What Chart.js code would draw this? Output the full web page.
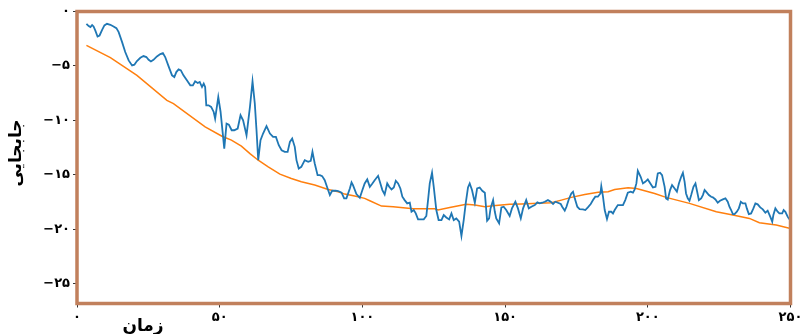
<!DOCTYPE html>
<html>
<head>
<meta charset="utf-8">
<script src="https://cdn.jsdelivr.net/npm/chart.js@4"></script>
<style>
  html, body { margin: 0; padding: 0; background: #fff; }
  #wrap { width: 800px; height: 334px; }
</style>
</head>
<body>
<div id="wrap"><canvas id="c" width="800" height="334"></canvas></div>
<script>
// Displacement vs. time – noisy measurement (blue) and smoothed trend (orange).
const X_TITLE = "زمان";
const Y_TITLE = "جابجایی";
const X_TICKS = [0, 50, 100, 150, 200, 250];
const Y_TICKS = [0, -5, -10, -15, -20, -25];

const blueT = [3.3, 4.1, 4.7, 5.3, 5.8, 6.4, 7.2, 7.9, 8.8, 9.6, 10.5, 11.7, 12.8, 13.8, 14.6, 15.8,
  16.9, 18.1, 19.3, 20.1, 21.0, 22.2, 23.3, 24.3, 25.1, 25.9, 26.8, 28.0, 29.2, 30.1, 30.9, 32.1,
  33.3, 34.1, 34.8, 35.6, 36.4, 37.3, 38.5, 39.7, 40.6, 41.4, 42.3, 43.0, 43.8, 44.4, 44.9, 45.3,
  46.1, 47.0, 47.9, 48.4, 49.5, 50.3, 51.0, 51.6, 52.4, 53.2, 54.2, 55.1, 56.3, 57.3, 58.2, 59.4,
  60.6, 61.5, 62.3, 62.9, 63.5, 64.3, 65.2, 66.4, 67.6, 68.7, 69.7, 70.7, 71.7, 72.8, 73.8, 74.6,
  75.4, 76.3, 76.9, 77.7, 78.6, 79.8, 81.0, 81.9, 82.5, 83.3, 84.3, 85.1, 85.9, 86.8, 87.8, 88.6,
  89.4, 90.6, 91.5, 92.7, 93.6, 94.4, 95.6, 96.2, 96.7, 97.9, 99.1, 100.0, 100.8, 101.7, 102.6,
  103.5, 104.3, 105.5, 106.3, 107.0, 107.8, 108.7, 109.4, 110.2, 111.0, 111.7, 112.5, 113.3, 114.0,
  114.8, 115.7, 116.6, 117.2, 118.0, 118.7, 119.5, 120.7, 121.5, 122.4, 123.0, 123.6, 124.4, 125.0,
  125.9, 126.7, 127.7, 128.5, 129.4, 130.4, 131.2, 132.0, 132.9, 133.9, 134.7, 135.5, 136.2, 137.0,
  137.6, 138.4, 139.4, 140.2, 141.1, 142.0, 142.9, 143.7, 144.4, 144.9, 145.8, 146.4, 146.9, 147.9,
  148.7, 149.5, 150.4, 151.6, 152.4, 153.6, 154.5, 155.5, 156.3, 157.4, 158.3, 159.2, 160.4, 161.3,
  162.1, 163.0, 163.9, 165.0, 166.0, 166.8, 167.6, 168.5, 169.5, 170.0, 170.9, 171.5, 172.3, 173.2,
  173.8, 174.4, 175.3, 176.1, 177.3, 178.1, 179.0, 180.0, 180.8, 181.6, 182.5, 183.4, 183.7, 184.3,
  184.9, 185.7, 186.4, 187.2, 187.8, 188.4, 189.5, 190.5, 191.3, 192.1, 193.0, 194.0, 194.8, 195.4,
  196.0, 196.5, 197.5, 198.3, 199.1, 200.0, 200.9, 201.8, 202.7, 203.5, 204.3, 205.0, 205.9, 206.4,
  207.0, 207.8, 208.5, 209.4, 210.2, 210.9, 211.7, 212.3, 212.9, 213.4, 214.0, 214.6, 215.2, 216.0,
  216.7, 217.3, 217.9, 218.7, 219.3, 219.9, 220.4, 221.4, 222.2, 222.8, 223.7, 224.5, 225.3, 226.3,
  227.2, 228.0, 228.6, 229.2, 229.8, 230.4, 231.2, 231.9, 232.6, 233.3, 234.2, 234.7, 235.4, 236.2,
  237.0, 237.7, 238.5, 239.4, 240.3, 241.2, 242.0, 242.9, 243.6, 244.0, 244.7, 245.5, 246.1, 247.1,
  247.6, 248.2, 249.0, 249.6];
const blueV = [-1.13, -1.34, -1.43, -1.25, -1.37, -1.74, -2.29, -2.20, -1.68, -1.28, -1.13, -1.22,
  -1.37, -1.53, -1.89, -2.81, -3.72, -4.49, -4.95, -4.88, -4.55, -4.25, -4.09, -4.18, -4.43, -4.58,
  -4.43, -4.12, -3.91, -3.82, -4.18, -5.04, -5.86, -6.01, -5.56, -5.31, -5.40, -5.86, -6.32, -6.78,
  -6.78, -6.41, -6.56, -6.47, -6.93, -6.62, -6.93, -8.61, -8.61, -8.76, -9.22, -9.83, -7.85, -9.20,
  -11.0, -12.58, -10.29, -10.38, -10.90, -10.90, -10.74, -9.52, -9.98, -11.36, -8.76, -6.41, -8.46,
  -10.90, -13.64, -11.81, -11.20, -10.53, -11.20, -11.51, -11.51, -12.27, -12.73, -12.88, -12.88,
  -11.97, -11.66, -12.42, -13.64, -14.41, -14.26, -13.64, -13.80, -13.71, -12.88, -13.95, -15.02,
  -15.02, -15.11, -15.48, -16.24, -16.85, -16.45, -16.45, -16.48, -16.63, -17.15, -17.15, -16.24,
  -15.69, -15.93, -16.76, -17.10, -16.39, -15.78, -15.41, -16.09, -15.78, -15.48, -15.08, -15.78,
  -16.39, -16.79, -15.78, -16.09, -16.33, -16.15, -15.54, -15.78, -16.24, -17.00, -17.31, -17.61,
  -17.55, -18.38, -18.22, -18.53, -19.08, -19.08, -19.08, -18.77, -17.31, -15.78, -14.80, -16.09,
  -18.22, -19.14, -19.14, -18.68, -18.90, -19.08, -18.53, -19.14, -18.99, -19.29, -20.60, -19.14,
  -17.61, -16.15, -15.78, -16.39, -17.55, -16.24, -16.15, -16.45, -16.63, -19.20, -18.99, -18.07,
  -17.31, -18.38, -18.99, -19.44, -17.98, -17.92, -18.22, -18.77, -18.07, -17.46, -18.07, -18.99,
  -18.07, -17.31, -18.07, -17.92, -17.77, -17.52, -17.61, -17.55, -17.46, -17.31, -17.46, -17.67,
  -17.46, -17.55, -17.67, -17.92, -18.28, -17.92, -17.25, -16.70, -16.54, -17.15, -17.92, -18.13,
  -18.16, -18.22, -17.98, -17.67, -17.31, -17.00, -17.00, -16.70, -16.03, -17.00, -18.22, -19.05,
  -18.38, -18.38, -18.53, -18.22, -17.77, -17.77, -17.77, -17.31, -16.63, -16.54, -16.63, -16.33,
  -15.78, -14.62, -15.17, -15.78, -15.63, -15.41, -15.78, -16.15, -16.09, -14.87, -14.80, -15.02,
  -16.09, -17.15, -17.25, -16.39, -15.93, -16.24, -16.54, -15.78, -15.17, -14.80, -15.63, -16.70,
  -17.15, -17.37, -16.85, -16.09, -15.78, -16.54, -17.31, -17.15, -16.85, -16.39, -16.54, -16.85,
  -17.00, -17.06, -17.25, -17.55, -17.37, -17.25, -17.15, -17.46, -17.92, -18.22, -18.59, -18.59,
  -18.38, -18.07, -17.46, -17.61, -17.61, -18.07, -18.59, -18.53, -18.07, -17.61, -17.70, -17.98,
  -18.16, -18.47, -18.28, -18.83, -19.29, -18.68, -18.07, -18.38, -18.53, -18.53, -18.22, -18.38,
  -18.83, -19.08];

const orangeT = [3.3, 11.7, 21.0, 31.5, 33.8, 44.9, 50.8, 54.1, 57.6, 60.6, 63.5, 67.0, 71.1, 75.1,
  78.6, 83.3, 88.0, 91.5, 93.8, 97.3, 100.8, 102.6, 106.7, 110.8, 117.8, 122.4, 125.4, 126.5, 130.6,
  136.4, 139.4, 142.9, 145.8, 151.6, 155.7, 161.6, 166.2, 169.7, 173.2, 177.9, 182.6, 186.1, 188.4,
  193.1, 196.0, 198.9, 202.4, 206.4, 214.6, 224.0, 229.8, 235.6, 239.1, 245.0, 249.6];
const orangeV = [-3.11, -4.24, -5.86, -8.15, -8.46, -10.59, -11.45, -11.81, -12.36, -13.05, -13.65,
  -14.26, -14.93, -15.32, -15.63, -15.93, -16.33, -16.54, -16.76, -16.94, -17.15, -17.37, -17.86,
  -17.92, -18.10, -18.10, -18.10, -18.22, -17.98, -17.70, -17.77, -17.92, -17.83, -17.70, -17.67,
  -17.61, -17.55, -17.31, -17.06, -16.79, -16.60, -16.54, -16.33, -16.18, -16.24, -16.45, -16.70,
  -17.06, -17.61, -18.38, -18.68, -18.99, -19.38, -19.60, -19.90];

const FA_DIGITS = "۰۱۲۳۴۵۶۷۸۹";
const toFa = (v) => String(v).replace(/-/g, "−").replace(/\d/g, (d) => FA_DIGITS[d]);
const pts = (ts, vs) => ts.map((t, i) => ({ x: t, y: vs[i] }));

const TICK_FONT = { family: "'DejaVu Sans'", size: 13, weight: "bold" };
const FRAME = "#c1805c";

// Brown frame round the plot area plus the two axis titles.
const decor = {
  id: "decor",
  afterDatasetsDraw(chart) {
    const { ctx, chartArea: a } = chart;
    ctx.save();
    ctx.strokeStyle = FRAME;
    ctx.lineWidth = 3.5;
    ctx.strokeRect(a.left, a.top, a.right - a.left, a.bottom - a.top);
    ctx.restore();
  },
  afterDraw(chart) {
    const { ctx } = chart;
    ctx.save();
    ctx.fillStyle = "#000";
    ctx.font = "bold 17px 'DejaVu Sans'";
    ctx.textAlign = "center";
    ctx.textBaseline = "middle";
    ctx.fillText(X_TITLE, 143, 327);
    ctx.translate(17, 153);
    ctx.rotate(-Math.PI / 2);
    ctx.fillText(Y_TITLE, 0, 0);
    ctx.restore();
  },
};

const tickGrid = { display: true, drawOnChartArea: false, drawTicks: true, tickLength: 4, color: "#333" };

new Chart(document.getElementById("c"), {
  type: "line",
  data: {
    datasets: [
      { data: pts(blueT, blueV), borderColor: "#1f77b4", borderWidth: 1.8, pointRadius: 0, tension: 0 },
      { data: pts(orangeT, orangeV), borderColor: "#ff7f0e", borderWidth: 1.5, pointRadius: 0, tension: 0 },
    ],
  },
  options: {
    responsive: false,
    animation: false,
    layout: { padding: { top: 11.5, right: 9.5, left: 0, bottom: 0 } },
    plugins: { legend: { display: false }, tooltip: { enabled: false } },
    scales: {
      x: {
        type: "linear", min: 0, max: 250,
        afterBuildTicks: (s) => { s.ticks = X_TICKS.map((v) => ({ value: v })); },
        afterFit: (s) => { s.height = 30.5; s.paddingLeft = 0; s.paddingRight = 0; },
        ticks: { font: TICK_FONT, color: "#000", padding: 2, maxRotation: 0, autoSkip: false,
                 callback: (v) => toFa(v) },
        grid: tickGrid, border: { display: false },
      },
      y: {
        type: "linear", min: -26.8, max: 0,
        afterBuildTicks: (s) => { s.ticks = Y_TICKS.map((v) => ({ value: v })); },
        afterFit: (s) => { s.width = 77; s.paddingTop = 0; s.paddingBottom = 0; },
        ticks: { font: TICK_FONT, color: "#000", padding: 3, callback: (v) => toFa(v) },
        grid: tickGrid, border: { display: false },
      },
    },
  },
  plugins: [decor],
});
</script>
</body>
</html>
